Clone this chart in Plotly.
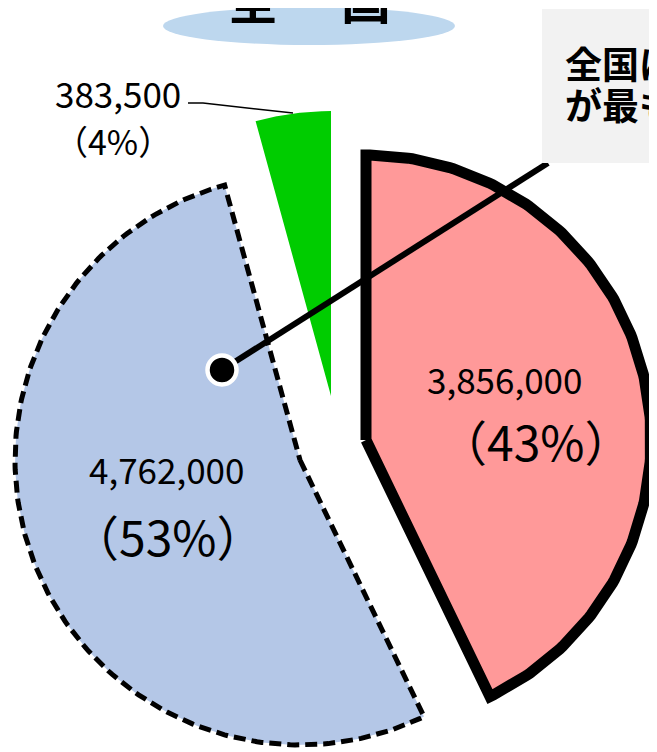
import numpy as np
import plotly.graph_objects as go

# slice values (clockwise from 12 o'clock)
values = [3856000, 4762000, 383500]
value_labels = ["3,856,000", "4,762,000", "383,500"]
title_chars = ["全", "国"]
callout_lines = ["全国は", "が最も"]

total = sum(values)
pcts = [round(v / total * 100) for v in values]

# styling / placement of the exploded slices
colors = ["#FF9999", "#B4C7E7", "#00CC00"]
centers = [(366, 440), (300, 460), (331, 396)]
radii = [285, 285, 285]
line_styles = [dict(color="black", width=11),
               dict(color="black", width=5, dash="12px,6px"),
               dict(color="rgba(0,0,0,0)", width=0)]

FONT = "Noto Sans CJK JP"
OFF = 8  # page body margin

fig = go.Figure()

start = 0.0
for v, col, (cx, cy), r, ln in zip(values, colors, centers, radii, line_styles):
    sweep = v / total * 2 * np.pi
    th = np.linspace(start, start + sweep, 200)
    xs = np.concatenate([[cx], cx + r * np.sin(th), [cx]])
    ys = np.concatenate([[cy], cy - r * np.cos(th), [cy]])
    fig.add_trace(go.Scatter(x=xs, y=ys, mode="lines", fill="toself",
                             fillcolor=col, line=ln, hoverinfo="skip"))
    start += sweep

# leader line for the small slice
fig.add_trace(go.Scatter(x=[188, 203, 293], y=[103, 103, 113], mode="lines",
                         line=dict(color="black", width=1.5), hoverinfo="skip"))

# callout connector
fig.add_trace(go.Scatter(x=[548, 222], y=[163, 370], mode="lines",
                         line=dict(color="black", width=6), hoverinfo="skip"))
fig.add_trace(go.Scatter(x=[222], y=[370], mode="markers",
                         marker=dict(size=29, color="black",
                                     line=dict(color="white", width=4.5)),
                         hoverinfo="skip"))

shapes = [
    dict(type="circle", xref="x", yref="y", x0=163, x1=455, y0=7, y1=45,
         fillcolor="#BDD7EE", line=dict(width=0), layer="below"),
    dict(type="rect", xref="x", yref="y", x0=542, x1=700, y0=9, y1=163,
         fillcolor="#F2F2F2", line=dict(width=0), layer="above"),
]

annotations = []
# value / percent labels
num_pos = [(504, 378), (166, 468), (118, 92)]
pct_pos = [(536, 440), (168, 535), (113, 140)]
pct_size = [48, 48, 34]
for i in range(3):
    annotations.append(dict(x=num_pos[i][0], y=num_pos[i][1], text=value_labels[i],
                            showarrow=False, font=dict(family=FONT, size=35, color="black")))
    annotations.append(dict(x=pct_pos[i][0], y=pct_pos[i][1], text=f"（{pcts[i]}%）",
                            showarrow=False, font=dict(family=FONT, size=pct_size[i], color="black")))

# title (top of glyphs runs off the page)
for ch, tx in zip(title_chars, [253, 366]):
    annotations.append(dict(x=tx, y=35, yanchor="bottom", text=f"<b>{ch}</b>", showarrow=False,
                            font=dict(family=FONT, size=50, color="black")))

# callout text (runs off the right edge)
for line, ty in zip(callout_lines, [63, 104]):
    annotations.append(dict(x=563, y=ty, text=f"<b>{line}</b>", showarrow=False,
                            xanchor="left", font=dict(family=FONT, size=37, color="black")))

fig.update_layout(
    width=657, height=752,
    margin=dict(l=0, r=0, t=0, b=0),
    paper_bgcolor="white", plot_bgcolor="white",
    showlegend=False,
    shapes=shapes,
    annotations=annotations,
    xaxis=dict(range=[OFF, 657 + OFF], visible=False, fixedrange=True),
    yaxis=dict(range=[752 + OFF, OFF], visible=False, fixedrange=True),
)

fig.write_html("out.html")
